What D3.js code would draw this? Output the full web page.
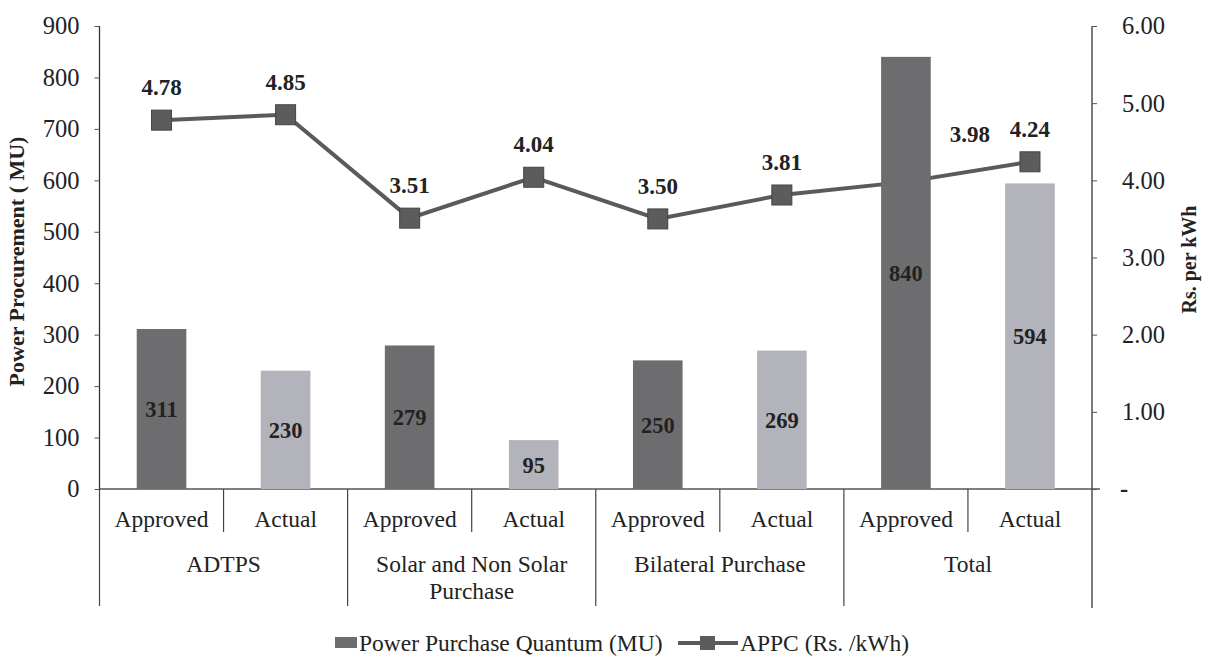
<!DOCTYPE html>
<html>
<head>
<meta charset="utf-8">
<script src="https://cdn.jsdelivr.net/npm/d3@7"></script>
<style>
  body { margin: 0; background: #fff; }
  svg { display: block; }
  text { font-family: "Liberation Serif", "Times New Roman", serif; fill: #222; }
</style>
</head>
<body>
<svg id="chart" width="1206" height="662"></svg>
<script>
// ---- Data ----
const groups = ["ADTPS", "Solar and Non Solar\nPurchase", "Bilateral Purchase", "Total"];
const subLabels = ["Approved", "Actual"];
const quantum = [311, 230, 279, 95, 250, 269, 840, 594];   // Power Purchase Quantum (MU)
const appc = [4.78, 4.85, 3.51, 4.04, 3.50, 3.81, 3.98, 4.24]; // APPC (Rs./kWh)
const leftTicks = [0, 100, 200, 300, 400, 500, 600, 700, 800, 900];
const rightTicks = [0, 1, 2, 3, 4, 5, 6];
const seriesNames = ["Power Purchase Quantum (MU)", "APPC (Rs. /kWh)"];

// ---- Layout ----
const svg = d3.select("#chart");
const m = { left: 99.5, right: 1092, top: 26, bottom: 489 };
const cats = d3.range(quantum.length);
const x = d3.scaleBand().domain(cats).range([m.left, m.right]).paddingInner(0.6).paddingOuter(0.3);
const xb = d3.scaleBand().domain(cats).range([m.left, m.right]);
const yL = d3.scaleLinear().domain([0, 900]).range([m.bottom, m.top]);
const yR = d3.scaleLinear().domain([0, 6]).range([m.bottom, m.top]);

const darkCol = "#6d6d6f", lightCol = "#b3b3bb", lineCol = "#5a5a5c";
const fs = "23.5px";

// Left axis
const gL = svg.append("g").attr("transform", `translate(${m.left},0)`)
  .call(d3.axisLeft(yL).tickValues(leftTicks).tickSize(5).tickPadding(15).tickFormat(d3.format("d")));
gL.select(".domain").attr("stroke", "#333").attr("stroke-width", 1.3).attr("d", `M0,${m.top}V${m.bottom}`);
gL.selectAll(".tick line").attr("stroke", "#555");
gL.selectAll(".tick text").style("font-size", "24.5px").attr("fill", "#222");

// Right axis
const gR = svg.append("g").attr("transform", `translate(${m.right},0)`)
  .call(d3.axisRight(yR).tickValues(rightTicks).tickSize(5).tickPadding(25)
    .tickFormat(d => d === 0 ? "-" : d3.format(".2f")(d)));
gR.select(".domain").attr("stroke", "#333").attr("stroke-width", 1.3).attr("d", `M0,${m.top}V608`);
gR.selectAll(".tick line").attr("stroke", "#555");
gR.selectAll(".tick text").style("font-size", "24.5px").attr("fill", "#222");
gR.selectAll(".tick").filter(d => d === 0).select("text").style("font-weight", "bold").attr("dx", -2);

// Category axis base line
svg.append("line").attr("x1", m.left).attr("x2", m.right + 8).attr("y1", m.bottom).attr("y2", m.bottom)
  .attr("stroke", "#555").attr("stroke-width", 1.3);

// Category dividers
cats.forEach(i => {
  const xx = xb(i);
  if (i === 0) return;
  const isGroup = i % 2 === 0;
  svg.append("line").attr("x1", xx).attr("x2", xx).attr("y1", m.bottom).attr("y2", isGroup ? 606 : 532)
    .attr("stroke", "#444").attr("stroke-width", 1.2);
});
svg.append("line").attr("x1", m.left).attr("x2", m.left).attr("y1", m.bottom).attr("y2", 606)
  .attr("stroke", "#444").attr("stroke-width", 1.2);

// Sub labels
cats.forEach(i => {
  svg.append("text").attr("x", xb(i) + xb.bandwidth() / 2).attr("y", 527)
    .attr("text-anchor", "middle").style("font-size", fs).text(subLabels[i % 2]);
});
// Group labels
groups.forEach((g, gi) => {
  const cx = xb(gi * 2) + xb.bandwidth();
  const lines = g.split("\n");
  lines.forEach((ln, li) => {
    svg.append("text").attr("x", cx).attr("y", 572 + li * 27)
      .attr("text-anchor", "middle").style("font-size", fs).text(ln);
  });
});

// Line (drawn beneath bars)
const line = d3.line().x((d, i) => x(i) + x.bandwidth() / 2).y(d => yR(d));
svg.append("path").datum(appc).attr("d", line).attr("fill", "none")
  .attr("stroke", lineCol).attr("stroke-width", 4);
svg.selectAll(".mk").data(appc).join("rect").attr("class", "mk")
  .attr("x", (d, i) => x(i) + x.bandwidth() / 2 - 10).attr("y", d => yR(d) - 10)
  .attr("width", 20).attr("height", 20).attr("fill", "#5c5c5e").attr("stroke", "#444").attr("stroke-width", 1);

// Bars
svg.selectAll(".bar").data(quantum).join("rect").attr("class", "bar")
  .attr("x", (d, i) => x(i)).attr("width", x.bandwidth())
  .attr("y", d => yL(d)).attr("height", d => yL(0) - yL(d))
  .attr("fill", (d, i) => i % 2 === 0 ? darkCol : lightCol);

// Bar labels
svg.selectAll(".bl").data(quantum).join("text").attr("class", "bl")
  .attr("x", (d, i) => x(i) + x.bandwidth() / 2).attr("y", d => (yL(d) + yL(0)) / 2 + 8)
  .attr("text-anchor", "middle").style("font-size", "22.5px").style("font-weight", "bold")
  .attr("fill", "#2a2a2a").text(d => d);

// Line labels
svg.selectAll(".ll").data(appc).join("text").attr("class", "ll")
  .attr("x", (d, i) => x(i) + x.bandwidth() / 2 + (i === 6 ? 64 : 0))
  .attr("y", (d, i) => yR(d) - (i === 6 ? 40 : 25))
  .attr("text-anchor", "middle").style("font-size", "23px").style("font-weight", "bold")
  .attr("fill", "#2a2a2a").text(d => d3.format(".2f")(d));

// Axis titles
svg.append("text").attr("transform", `translate(24,${(m.top + m.bottom) / 2 + 4}) rotate(-90)`)
  .attr("text-anchor", "middle").style("font-size", "22px").style("font-weight", "bold")
  .text("Power Procurement ( MU)");
svg.append("text").attr("transform", `translate(1196,${(m.top + m.bottom) / 2 + 2}) rotate(-90)`)
  .attr("text-anchor", "middle").style("font-size", "20px").style("font-weight", "bold")
  .text("Rs. per kWh");

// Legend
const ly = 643;
svg.append("rect").attr("x", 335).attr("y", ly - 6).attr("width", 22).attr("height", 11).attr("fill", darkCol);
svg.append("text").attr("x", 359).attr("y", ly + 8).style("font-size", fs).text(seriesNames[0]);
svg.append("line").attr("x1", 678).attr("x2", 738).attr("y1", ly).attr("y2", ly)
  .attr("stroke", lineCol).attr("stroke-width", 4);
svg.append("rect").attr("x", 700).attr("y", ly - 7).attr("width", 15).attr("height", 14).attr("fill", "#5c5c5e");
svg.append("text").attr("x", 740).attr("y", ly + 8).style("font-size", fs).text(seriesNames[1]);
</script>
</body>
</html>
